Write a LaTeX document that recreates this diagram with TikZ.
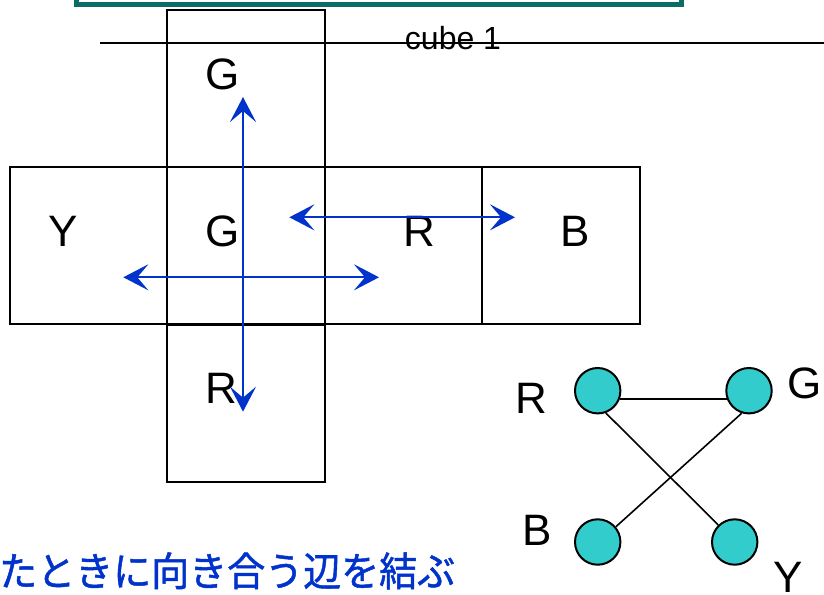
\documentclass[tikz,border=0pt]{standalone}
\usepackage{fontspec}
\setmainfont{Liberation Sans}
\newfontfamily\cjk[FakeStretch=0.95,FakeBold=1.2]{Noto Sans CJK JP}
\usetikzlibrary{arrows.meta}
\definecolor{tealframe}{HTML}{0B6B66}
\definecolor{arrowblue}{HTML}{0033CC}
\definecolor{textblue}{HTML}{0033CC}
\definecolor{nodecyan}{HTML}{33CCCC}
\tikzset{
  face/.style={draw=black, line width=2pt, minimum width=157.7pt, minimum height=157pt, inner sep=0pt},
  bigletter/.style={font=\fontsize{44}{44}\selectfont, inner sep=0pt, anchor=base},
  bluearrow/.style={draw=arrowblue, line width=2.2pt, {Stealth[length=25pt,width=26pt,inset=11pt]}-{Stealth[length=25pt,width=26pt,inset=11pt]}},
  vertex/.style={circle, draw=black, line width=2pt, fill=nodecyan, minimum size=45.4pt, inner sep=0pt},
  edge/.style={draw=black, line width=1.6pt}
}
\begin{document}
\begin{tikzpicture}[x=1pt,y=-1pt]
\useasboundingbox (0,0) rectangle (824,594);
\fill[white] (0,0) rectangle (824,594);
% teal frame (cut off at top)
\draw[tealframe, line width=5pt] (76.5,-10) -- (76.5,5) -- (681.5,5) -- (681.5,-10);
% horizontal rule and title
\coordinate (ruleL) at (100,43);
\coordinate (ruleR) at (824,43);
\draw[black, line width=1.8pt] (ruleL) -- (ruleR);
\node[font=\fontsize{32}{32}\selectfont, inner sep=0pt, anchor=base] (title) at (453,49.3) {cube 1};
% cube net
\node[face] (top) at (246.2,88.5) {};
\node[face] (left) at (88.5,245.7) {};
\node[face] (mid) at (246.2,245.7) {};
\node[face] (right1) at (403.6,245.7) {};
\node[face] (right2) at (561,245.7) {};
\node[face] (bottom) at (246.2,403.3) {};
% face letters
\node[bigletter] (lt) at (223,89) {G};
\node[bigletter] (ly) at (63,246) {Y};
\node[bigletter] (lg) at (223,246) {G};
\node[bigletter] (lr) at (419.5,246) {R};
\node[bigletter] (lb) at (575,246) {B};
\node[bigletter] (lbr) at (221,403.3) {R};
% arrows
\coordinate (vTop) at (243,97);
\coordinate (vBot) at (243,411.7);
\coordinate (h1L) at (289.3,217.3);
\coordinate (h1R) at (515,217.3);
\coordinate (h2L) at (123.3,277.3);
\coordinate (h2R) at (379,277.3);
\draw[bluearrow] (vTop) -- (vBot);
\draw[bluearrow] (h1L) -- (h1R);
\draw[bluearrow] (h2L) -- (h2R);
% graph
\node[vertex] (R) at (597.7,390.7) {};
\node[vertex] (G) at (749,390.7) {};
\node[vertex] (B) at (597.7,542) {};
\node[vertex] (Y) at (734.7,542) {};
\draw[edge] (R.-20) -- (G.-160);
\draw[edge] (R.-70) -- (Y.134);
\draw[edge] (G.-108) -- (B.40);
\node[bigletter] (labR) at (531.7,413.3) {R};
\node[bigletter] (labG) at (805,398.6) {G};
\node[bigletter] (labB) at (536.7,545) {B};
\node[bigletter] (labY) at (788,592) {Y};
% Japanese caption
\node[font=\cjk\fontsize{40}{40}\selectfont, text=textblue, inner sep=0pt, anchor=base west] (caption) at (-1,586) {たときに向き合う辺を結ぶ};
\end{tikzpicture}
\end{document}
